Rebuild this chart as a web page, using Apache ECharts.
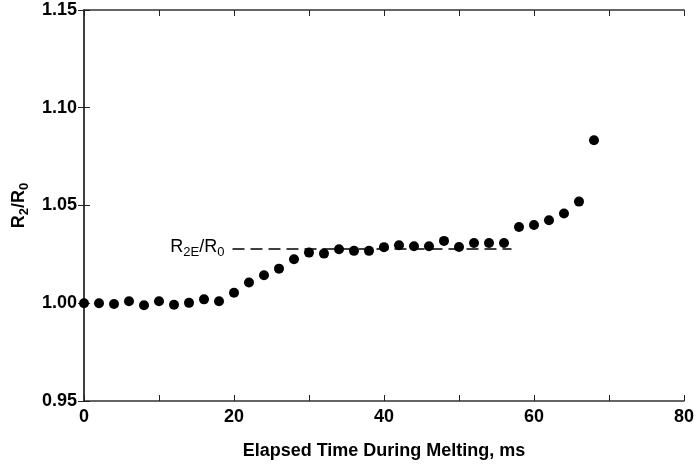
<!DOCTYPE html>
<html>
<head>
<meta charset="utf-8">
<script src="https://cdn.jsdelivr.net/npm/echarts@6/dist/echarts.min.js"></script>
<style>
html,body{margin:0;padding:0;background:#fff;}
#chart{width:697px;height:469px;}
</style>
</head>
<body>
<div id="chart"></div>
<script>
// Data
var timeMs = [0, 2, 4, 6, 8, 10, 12, 14, 16, 18, 20, 22, 24, 26, 28, 30, 32, 34, 36, 38, 40, 42, 44, 46, 48, 50, 52, 54, 56, 58, 60, 62, 64, 66, 68];
var ratioR2R0 = [1.000, 1.000, 0.9996, 1.001, 0.999, 1.001, 0.9992, 1.0002, 1.002, 1.001, 1.0054, 1.0106, 1.0143, 1.0177, 1.0225, 1.0259, 1.0254, 1.0276, 1.0268, 1.0268, 1.0287, 1.0297, 1.0292, 1.0292, 1.0319, 1.0288, 1.0308, 1.0308, 1.0308, 1.039, 1.040, 1.0425, 1.0459, 1.052, 1.0834];
var refLineX = [19.8, 57];
var refLineY = 1.0278;
var xTicks = [0, 20, 40, 60, 80];
var yTicks = [0.95, 1.00, 1.05, 1.10, 1.15];

var points = timeMs.map(function (t, i) { return [t, ratioR2R0[i]]; });
var FONT = '"Liberation Sans", Arial, Helvetica, sans-serif';

var chart = echarts.init(document.getElementById('chart'), null, {renderer: 'canvas'});
var tickStyle = {show: true, inside: true, length: 6, lineStyle: {color: '#222', width: 1}};
var lineStyle = {show: true, lineStyle: {color: '#333', width: 1.5}};

chart.setOption({
  animation: false,
  backgroundColor: '#fff',
  grid: {left: 84, right: 11, top: 10, bottom: 68, containLabel: false},
  xAxis: [{
    type: 'value', position: 'bottom',
    min: xTicks[0], max: xTicks[xTicks.length - 1], interval: 20,
    axisLine: lineStyle,
    axisTick: tickStyle,
    minorTick: {show: true, splitNumber: 2, length: 6, lineStyle: {color: '#222', width: 1}},
    splitLine: {show: false},
    axisLabel: {color: '#000', fontFamily: FONT, fontWeight: 'bold', fontSize: 18, margin: 7},
    name: 'Elapsed Time During Melting, ms',
    nameLocation: 'middle', nameGap: 41,
    nameTextStyle: {color: '#000', fontFamily: FONT, fontWeight: 'bold', fontSize: 18}
  }, {
    type: 'value', position: 'top',
    min: xTicks[0], max: xTicks[xTicks.length - 1], interval: 20,
    axisLine: lineStyle,
    axisTick: tickStyle,
    minorTick: {show: true, splitNumber: 2, length: 6, lineStyle: {color: '#222', width: 1}},
    splitLine: {show: false},
    axisLabel: {show: false}
  }],
  yAxis: [{
    type: 'value', position: 'left',
    min: yTicks[0], max: yTicks[yTicks.length - 1], interval: 0.05,
    axisLine: lineStyle,
    axisTick: tickStyle,
    splitLine: {show: false},
    axisLabel: {color: '#000', fontFamily: FONT, fontWeight: 'bold', fontSize: 18, margin: 7,
      formatter: function (v) { return v.toFixed(2); }},
    name: '{a|R}{b|2}{a|/R}{b|0}',
    nameLocation: 'middle', nameGap: 50, nameRotate: 90,
    nameTextStyle: {
      color: '#000', fontFamily: FONT, fontWeight: 'bold', fontSize: 18,
      rich: {
        a: {color: '#000', fontFamily: FONT, fontWeight: 'bold', fontSize: 18, lineHeight: 22, verticalAlign: 'top'},
        b: {color: '#000', fontFamily: FONT, fontWeight: 'bold', fontSize: 13, lineHeight: 22, verticalAlign: 'top', padding: [8, 0, 0, 0]}
      }
    }
  }, {
    type: 'value', position: 'right',
    min: yTicks[0], max: yTicks[yTicks.length - 1], interval: 0.05,
    axisLine: lineStyle,
    axisTick: tickStyle,
    splitLine: {show: false},
    axisLabel: {show: false}
  }],
  series: [{
    type: 'scatter',
    xAxisIndex: 0, yAxisIndex: 0,
    data: points,
    symbol: 'circle', symbolSize: 10,
    itemStyle: {color: '#000', opacity: 1},
    z: 3,
    markLine: {
      silent: true,
      symbol: ['none', 'none'],
      lineStyle: {color: '#000', width: 1.5, type: [12, 6], opacity: 1},
      label: {
        show: true, position: 'start', distance: 8,
        formatter: '{a|R}{b|2E}{a|/R}{b|0}',
        rich: {
          a: {color: '#000', fontFamily: FONT, fontSize: 18, lineHeight: 22, verticalAlign: 'top'},
          b: {color: '#000', fontFamily: FONT, fontSize: 13, lineHeight: 22, verticalAlign: 'top', padding: [8, 0, 0, 0]}
        }
      },
      data: [[{coord: [refLineX[0], refLineY]}, {coord: [refLineX[1], refLineY]}]]
    }
  }]
});
</script>
</body>
</html>
